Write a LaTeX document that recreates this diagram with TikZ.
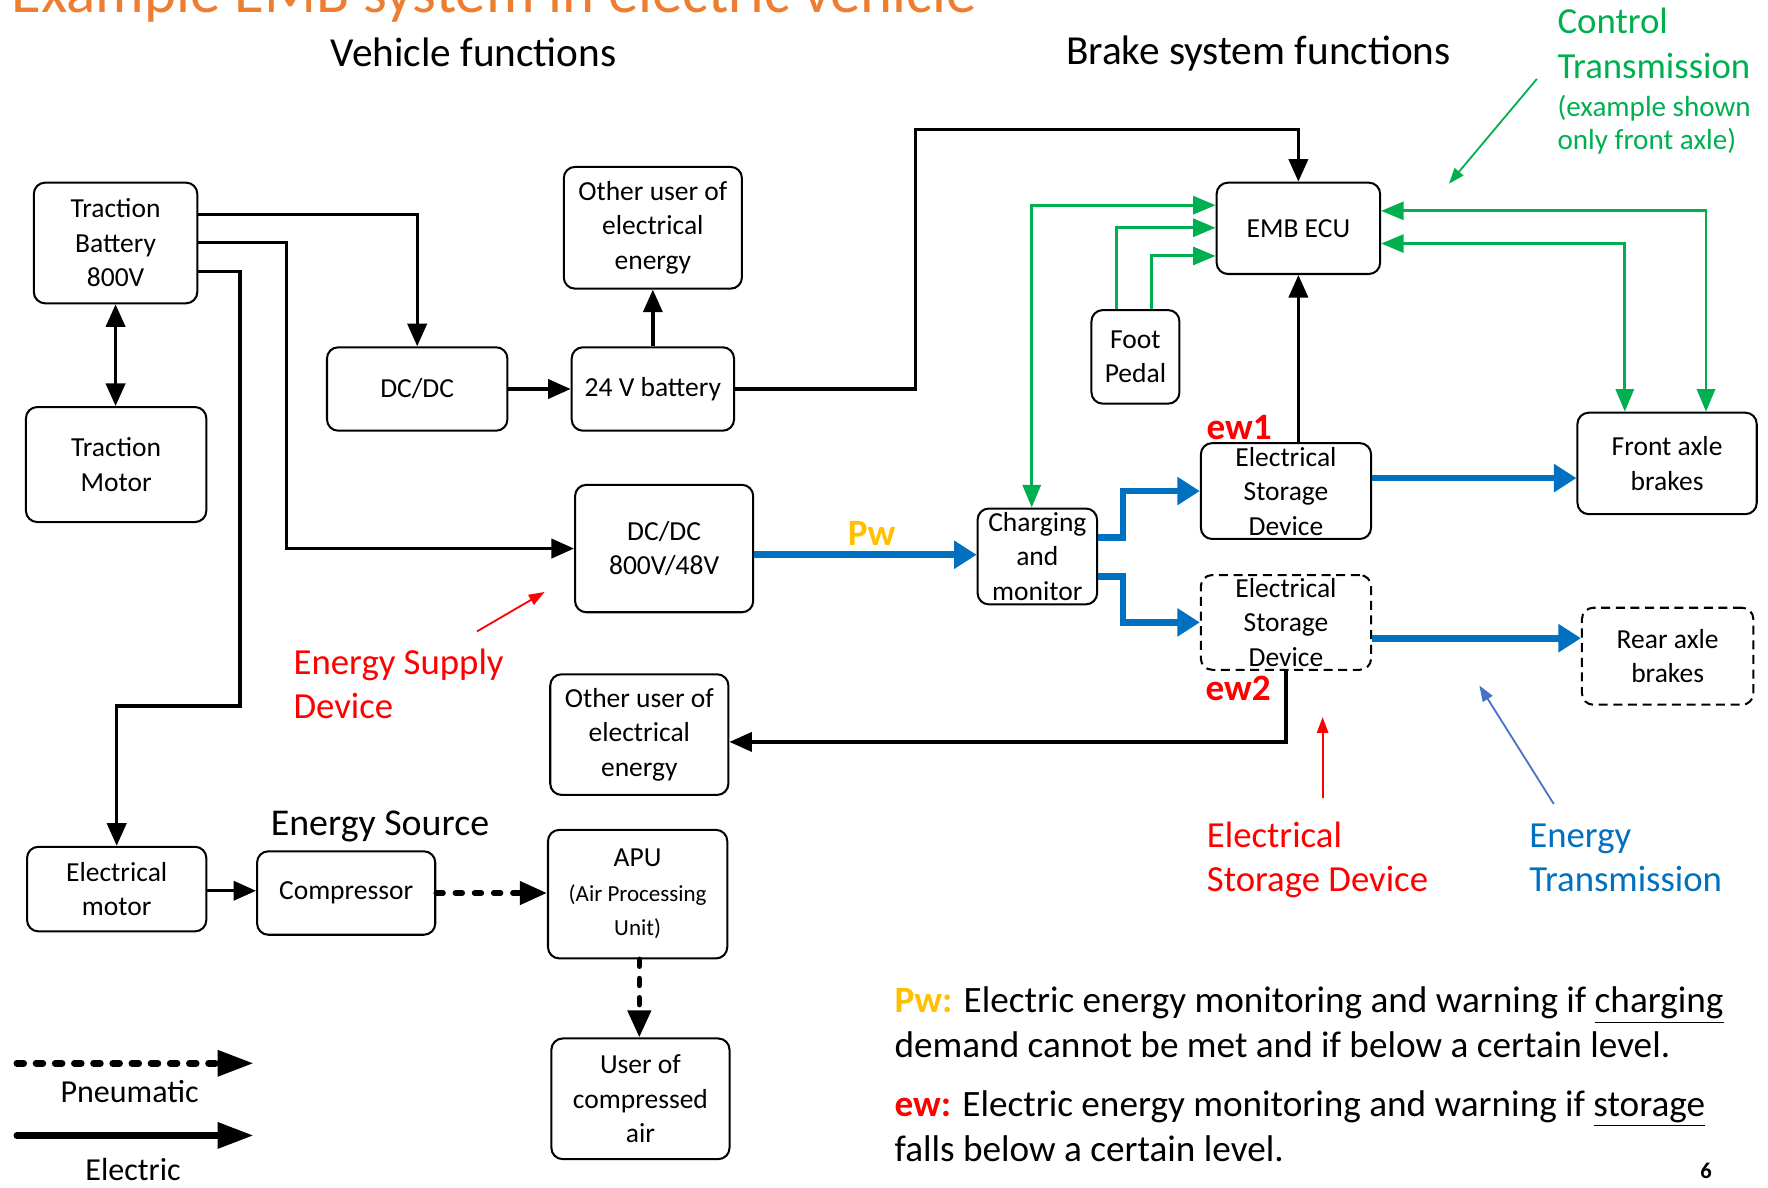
\documentclass[tikz,border=0pt]{standalone}
\usepackage{fontspec}
\setmainfont{Carlito}
\usetikzlibrary{arrows.meta}
\definecolor{cgreen}{HTML}{00B050}
\definecolor{cblue}{HTML}{0070C0}
\definecolor{cred}{HTML}{FF0000}
\definecolor{cyel}{HTML}{FFC000}
\definecolor{corange}{HTML}{ED7D31}
\definecolor{cannblue}{HTML}{4472C4}
\newcommand\bxf{\fontsize{12.2}{15.3}\selectfont}
\newcommand\lgf{\fontsize{16.3}{19.5}\selectfont}
\newcommand\ntf{\fontsize{16.5}{20}\selectfont}
\begin{document}
\begin{tikzpicture}[x=0.5pt,y=-0.5pt,
 box/.style={draw, line width=0.9pt, rounded corners=5pt, align=center, inner sep=0pt, font=\bxf},
 dbox/.style={box, dash pattern=on 4pt off 2.5pt},
 el/.style={line width=1.5pt, -{Triangle[length=10pt,width=8.5pt]}},
 elb/.style={line width=1.5pt, {Triangle[length=10pt,width=8.5pt]}-{Triangle[length=10pt,width=8.5pt]}},
 en/.style={cblue, line width=3pt, -{Triangle[length=10pt,width=12pt]}},
 ctl/.style={cgreen, line width=1.3pt, -{Triangle[length=10pt,width=8pt]}},
 ctlb/.style={cgreen, line width=1.3pt, {Triangle[length=10pt,width=8pt]}-{Triangle[length=10pt,width=8pt]}},
 pn/.style={line width=2.5pt, dash pattern=on 3pt off 5.5pt, line cap=round, -{Triangle[length=12pt,width=10pt]}},
 ann/.style={line width=0.8pt, -{Triangle[length=7pt,width=5pt]}},
 lbl/.style={inner sep=0pt, anchor=base west},
 lblc/.style={inner sep=0pt, anchor=base},
]
\useasboundingbox (0,0) rectangle (1568,1053);

% title (cut off at top)
\node[lbl, font=\fontsize{27}{30}\selectfont, text=corange] (title) at (10,11) {Example EMB system in electric vehicle};

% headings
\node[lblc, font=\fontsize{18.3}{22}\selectfont] (vf) at (420,59) {Vehicle functions};
\node[lblc, font=\fontsize{18.3}{22}\selectfont] (bsf) at (1116,57) {Brake system functions};
\node[lblc, font=\fontsize{16.8}{20}\selectfont] (es) at (337,741) {Energy Source};

% boxes
\node[box, minimum width=72.5pt, minimum height=53.5pt] (tb) at (102.5,215.5) {Traction\\Battery\\800V};
\node[box, minimum width=80pt, minimum height=51pt] (tm) at (103,412) {Traction\\Motor};
\node[box, minimum width=80pt, minimum height=37pt] (dc1) at (370,345) {DC/DC};
\node[box, minimum width=72pt, minimum height=37pt] (bat) at (579,345) {24 V battery};
\node[box, minimum width=79pt, minimum height=54pt] (ou1) at (579,202) {Other user of\\electrical\\energy};
\node[box, minimum width=79pt, minimum height=56.5pt] (dc2) at (589,486.5) {DC/DC\\800V/48V};
\node[box, minimum width=53pt, minimum height=42.5pt] (chg) at (920,493.5) {Charging\\and\\monitor};
\node[box, minimum width=72.5pt, minimum height=40.5pt] (ecu) at (1151.5,202.5) {EMB ECU};
\node[box, minimum width=39pt, minimum height=41.5pt] (fp) at (1007,316.5) {Foot\\Pedal};
\node[box, minimum width=75.5pt, minimum height=42.5pt] (esd1) at (1140.5,435.5) {Electrical\\Storage\\Device};
\node[dbox, minimum width=75.5pt, minimum height=42pt] (esd2) at (1140.5,552) {Electrical\\Storage\\Device};
\node[box, minimum width=79.5pt, minimum height=45pt] (fab) at (1478.5,411) {Front axle\\brakes};
\node[dbox, minimum width=76pt, minimum height=43pt] (rab) at (1479,582) {Rear axle\\brakes};
\node[box, minimum width=79pt, minimum height=53.5pt] (ou2) at (567,651.5) {Other user of\\electrical\\energy};
\node[box, minimum width=79.5pt, minimum height=37.5pt] (em) at (103.5,788.5) {Electrical\\motor};
\node[box, minimum width=79pt, minimum height=37pt] (cmp) at (307,792) {Compressor};
\node[box, minimum width=79.5pt, minimum height=57pt] (apu) at (565.5,793) {APU\\{\fontsize{10.2}{14.5}\selectfont (Air Processing}\\{\fontsize{10.2}{14.5}\selectfont Unit)}};
\node[box, minimum width=79pt, minimum height=53.5pt] (uca) at (568,974.5) {User of\\compressed\\air};

% electric connectors
\draw[el] (tb.east |- 0,190) -| (dc1.north);
\draw[el] (tb.east |- 0,215) -- (254,215) |- (dc2.west);
\draw[el] (tb.east |- 0,241) -- (213,241) -- (213,626) -| (em.north);
\draw[elb] (tb.south) -- (tb.south |- tm.north);
\draw[el] (dc1.east) -- (bat.west);
\draw[el] (bat.north) -- (ou1.south);
\draw[el] (bat.east) -| (812,115) -| (ecu.north);
\draw[el] (ecu.south |- esd1.north) -- (ecu.south);
\draw[el] (esd2.south) -- (esd2.south |- 0,658) -- (ou2.east |- 0,658);
\draw[el] (em.east |- 0,790) -- (cmp.west |- 0,790);

% energy transmission
\draw[en] (dc2.east |- 0,492) -- (chg.west |- 0,492);
\draw[en] (chg.east |- 0,477) -- (996,477) |- (esd1.west);
\draw[en] (chg.east |- 0,511) -- (996,511) |- (esd2.west);
\draw[en] (esd1.east |- 0,424) -- (fab.west |- 0,424);
\draw[en] (esd2.east |- 0,566) -- (rab.west |- 0,566);

% control transmission
\draw[ctlb] (ecu.west |- 0,182) -| (915,0 |- chg.north);
\draw[ctl] (990,0 |- fp.north) |- (ecu.west |- 0,202);
\draw[ctl] (1021,0 |- fp.north) |- (ecu.west |- 0,227);
\draw[ctlb] (ecu.east |- 0,187) -| (1513,0 |- fab.north);
\draw[ctlb] (ecu.east |- 0,216) -| (1441,0 |- fab.north);

% pneumatic
\draw[pn] (cmp.east |- 0,792) -- (apu.west |- 0,792);
\draw[pn] (567,0 |- apu.south) -- (567,0 |- uca.north);

% small labels
\node[lblc, font=\fontsize{16.5}{20}\selectfont\bfseries, text=cyel] (pwl) at (773,484) {Pw};
\node[lblc, font=\fontsize{16.5}{20}\selectfont\bfseries, text=cred] (ew1) at (1099,390) {ew1};
\node[lblc, font=\fontsize{16.5}{20}\selectfont\bfseries, text=cred] (ew2) at (1098,621) {ew2};

% annotations
\node[lbl, font=\lgf, text=cgreen] (ct1) at (1381,30) {Control};
\node[lbl, font=\lgf, text=cgreen] (ct2) at (1381,70) {Transmission};
\node[lbl, font=\fontsize{12.9}{15}\selectfont, text=cgreen] (ct3) at (1381,103) {(example shown};
\node[lbl, font=\fontsize{12.9}{15}\selectfont, text=cgreen] (ct4) at (1381,133) {only front axle)};
\coordinate (a1s) at (1363,70); \coordinate (a1e) at (1285,163);
\draw[ann, cgreen] (a1s) -- (a1e);

\node[lbl, font=\lgf, text=cred] (esd1l) at (260,598) {Energy Supply};
\node[lbl, font=\lgf, text=cred] (esd2l) at (260,637) {Device};
\coordinate (a2s) at (423,560); \coordinate (a2e) at (483,525);
\draw[ann, cred] (a2s) -- (a2e);

\node[lbl, font=\lgf, text=cred] (sd1) at (1070,752) {Electrical};
\node[lbl, font=\lgf, text=cred] (sd2) at (1070,791) {Storage Device};
\coordinate (a3s) at (1173,708); \coordinate (a3e) at (1173,636);
\draw[ann, cred] (a3s) -- (a3e);

\node[lbl, font=\lgf, text=cblue] (et1) at (1356,752) {Energy};
\node[lbl, font=\lgf, text=cblue] (et2) at (1356,791) {Transmission};
\coordinate (a4s) at (1378,713); \coordinate (a4e) at (1312,608);
\draw[ann, cannblue] (a4s) -- (a4e);

% legend
\coordinate (lg1s) at (15,943); \coordinate (lg1e) at (225,943);
\coordinate (lg2s) at (15,1007); \coordinate (lg2e) at (225,1007);
\draw[pn, line width=3pt, -{Triangle[length=16pt,width=11pt]}] (lg1s) -- (lg1e);
\draw[line width=3pt, line cap=round, -{Triangle[length=16pt,width=11pt]}] (lg2s) -- (lg2e);
\node[lblc, font=\fontsize{14.2}{17}\selectfont] (lgp) at (115,978) {Pneumatic};
\node[lblc, font=\fontsize{14.2}{17}\selectfont] (lge) at (118,1047) {Electric};

% notes
\node[lbl, font=\ntf] (n1) at (793,898) {\textcolor{cyel}{\textbf{Pw:}} Electric energy monitoring and warning if \underline{charging}};
\node[lbl, font=\ntf] (n2) at (793,938) {demand cannot be met and if below a certain level.};
\node[lbl, font=\ntf] (n3) at (793,990) {\textcolor{cred}{\textbf{ew:}} Electric energy monitoring and warning if \underline{storage}};
\node[lbl, font=\ntf] (n4) at (793,1030) {falls below a certain level.};
\node[lblc, font=\fontsize{10}{12}\selectfont\bfseries] (pg) at (1513,1045) {6};
\end{tikzpicture}
\end{document}
